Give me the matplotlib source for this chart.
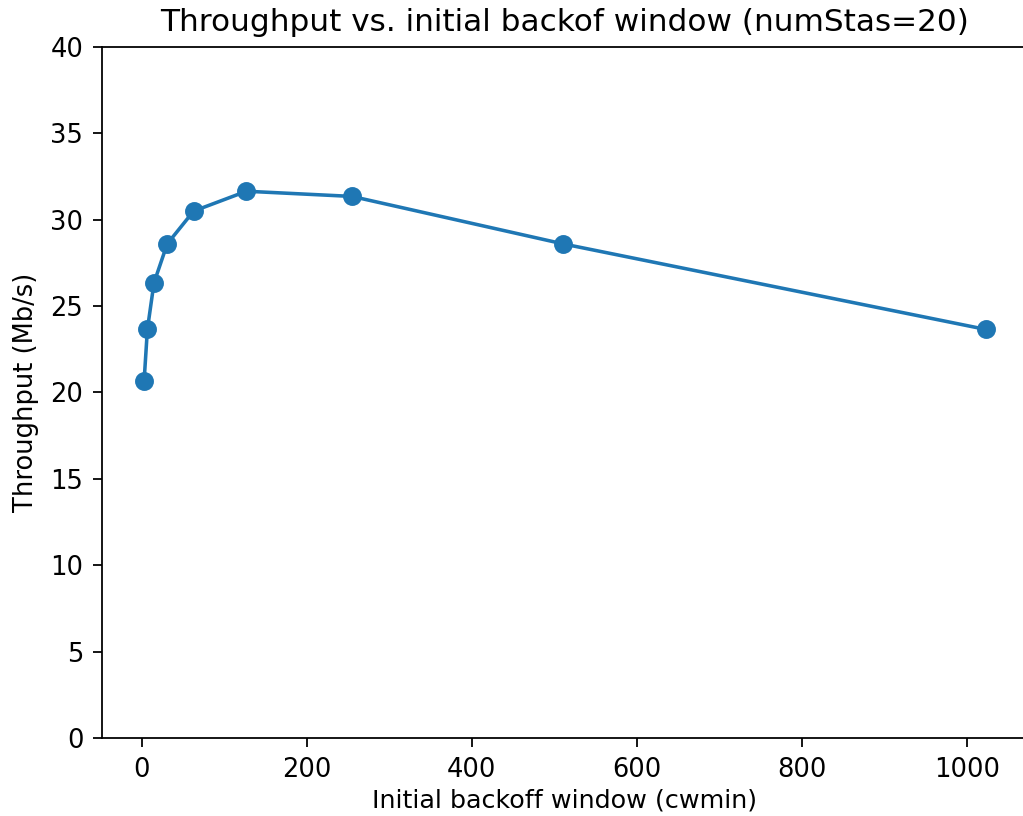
import matplotlib
matplotlib.use("Agg")
import matplotlib.pyplot as plt

cwmin = [3, 7, 15, 31, 63, 127, 255, 511, 1023]
throughput = [20.65, 23.65, 26.35, 28.6, 30.5, 31.65, 31.35, 28.6, 23.65]

fig = plt.figure(figsize=(1023/160, 816/160), dpi=160)
ax = fig.add_axes([102/1023, 1-738/816, 926/1023, 691/816])
ax.plot(cwmin, throughput, marker='o', color='#1f77b4', linewidth=1.6, markersize=7.5)
ax.set_ylim(0, 40)
ax.set_title("Throughput vs. initial backof window (numStas=20)", fontsize=14, pad=7)
ax.set_xlabel("Initial backoff window (cwmin)", fontsize=11.4, labelpad=2.5)
ax.set_ylabel("Throughput (Mb/s)", fontsize=11.6, labelpad=5)
ax.tick_params(labelsize=11.6, length=4.2, pad=4.2)
fig.savefig("out.png", dpi=160)
